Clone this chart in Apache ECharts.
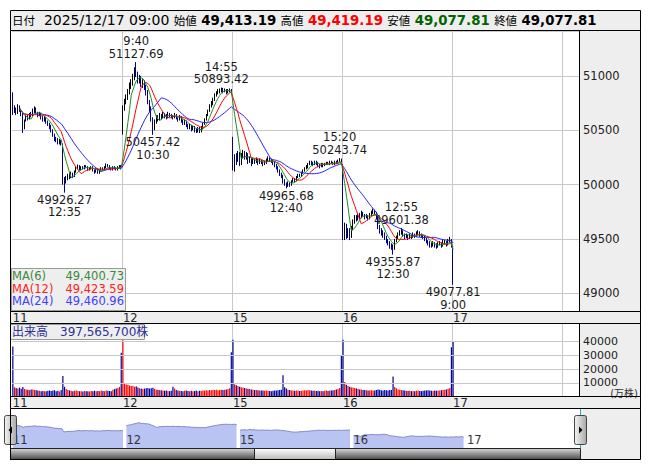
<!DOCTYPE html>
<html><head><meta charset="utf-8">
<script src="https://cdn.jsdelivr.net/npm/echarts@6/dist/echarts.min.js"></script>
<style>html,body{margin:0;padding:0;background:#fff}#c{width:653px;height:470px}</style>
</head><body><div id="c"></div>
<script>
// ---------- data ----------
const days = ['11','12','15','16','17'];
const header = {date:'2025/12/17 09:00', open:'49,413.19', high:'49,419.19', low:'49,077.81', close:'49,077.81'};
const maLegend = [['MA(6)','49,400.73'],['MA(12)','49,423.59'],['MA(24)','49,460.96']];
const volLegend = '出来高　397,565,700株';
const priceTicks = [49000,49500,50000,50500,51000];
const volTicks = [10000,20000,30000,40000];
// [open, close, low, high] per 5-minute bar
const day11 = [
[50830,50680,50640,50850],[50680,50700,50660,50730],[50700,50660,50640,50710],[50660,50720,50650,50740],[50720,50690,50670,50730],[50690,50650,50630,50700],
[50650,50520,50475,50660],[50520,50590,50510,50600],[50590,50620,50580,50640],[50620,50610,50590,50640],[50610,50650,50600,50660],[50650,50640,50620,50670],
[50640,50680,50630,50700],[50680,50700,50660,50720],[50700,50660,50650,50710],[50660,50640,50620,50670],[50640,50650,50630,50670],[50650,50620,50600,50660],
[50620,50600,50580,50630],[50600,50610,50580,50630],[50610,50580,50560,50620],[50580,50560,50540,50590],[50560,50540,50510,50570],[50540,50500,50480,50550],
[50500,50460,50440,50510],[50460,50430,50400,50470],[50430,50420,50390,50440],[50420,50390,50370,50430],[50390,50400,50370,50420],[50400,50370,50360,50410],
[50370,50040,50000,50380],[50040,50030,49926.27,50070],[50030,50060,50010,50080],[50060,50090,50040,50100],[50090,50070,50050,50110],[50070,50100,50060,50120],
[50100,50080,50060,50110],[50080,50120,50070,50130],[50120,50150,50110,50170],[50150,50170,50140,50185],[50170,50140,50130,50180],[50140,50160,50130,50170],
[50160,50150,50140,50170],[50150,50170,50140,50180],[50170,50160,50150,50180],[50160,50140,50130,50170],[50140,50150,50130,50160],[50150,50160,50140,50170],
[50160,50130,50120,50170],[50130,50120,50100,50140],[50120,50140,50110,50150],[50140,50110,50100,50150],[50110,50130,50100,50140],[50130,50150,50120,50160],
[50150,50140,50130,50160],[50140,50160,50130,50170],[50160,50180,50150,50195],[50180,50170,50160,50190],[50170,50150,50140,50180],[50150,50140,50130,50160],
[50140,50160,50130,50170],[50160,50150,50140,50170],[50150,50140,50130,50160],[50140,50160,50130,50170],[50160,50170,50150,50180],[50170,50150,50140,50180]
];
const day12 = [
[50470,50700,50460,50730],[50700,50760,50680,50790],[50760,50800,50740,50830],[50800,50850,50780,50880],[50850,50900,50830,50940],[50900,50930,50880,50970],
[50930,50980,50910,51020],[50980,51040,50960,51080],[51040,51020,50990,51127.69],[51020,50950,50930,51040],[50950,50980,50930,51010],[50980,50920,50900,51000],
[50920,50940,50890,50970],[50940,50900,50870,50960],[50900,50850,50820,50920],[50850,50760,50740,50870],[50760,50700,50670,50780],[50700,50600,50580,50720],
[50600,50520,50457.42,50620],[50520,50580,50500,50600],[50580,50620,50560,50640],[50620,50600,50580,50640],[50600,50640,50590,50660],[50640,50620,50600,50650],
[50620,50650,50610,50670],[50650,50630,50610,50660],[50630,50620,50600,50650],[50620,50650,50610,50670],[50650,50640,50620,50660],[50640,50630,50610,50650],
[50630,50620,50600,50640],[50620,50640,50610,50660],[50640,50610,50600,50650],[50610,50600,50580,50620],[50600,50620,50590,50640],[50620,50590,50570,50630],
[50590,50570,50550,50600],[50570,50580,50550,50600],[50580,50550,50530,50590],[50550,50530,50510,50560],[50530,50540,50510,50560],[50540,50510,50490,50550],
[50510,50530,50500,50540],[50530,50500,50480,50540],[50500,50490,50475,50520],[50490,50520,50480,50530],[50520,50490,50475,50530],[50490,50520,50480,50540],
[50520,50560,50510,50570],[50560,50600,50550,50610],[50600,50640,50590,50650],[50640,50680,50630,50690],[50680,50720,50670,50740],[50720,50750,50710,50770],
[50750,50780,50730,50800],[50780,50820,50770,50840],[50820,50840,50810,50860],[50840,50860,50830,50880],[50860,50870,50840,50885],[50870,50880,50850,50893.42],
[50880,50860,50840,50890],[50860,50870,50850,50885],[50870,50850,50830,50880],[50850,50860,50840,50880],[50860,50870,50850,50885],[50870,50850,50830,50880]
];
const day15 = [
[50430,50200,50130,50440],[50200,50250,50120,50280],[50250,50230,50180,50290],[50230,50280,50210,50310],[50280,50200,50170,50300],[50200,50260,50180,50290],
[50260,50300,50240,50320],[50300,50250,50230,50310],[50250,50280,50230,50300],[50280,50220,50190,50290],[50220,50240,50200,50260],[50240,50200,50170,50250],
[50200,50230,50190,50250],[50230,50210,50190,50240],[50210,50230,50200,50250],[50230,50200,50180,50240],[50200,50220,50190,50240],[50220,50210,50190,50230],
[50210,50190,50170,50220],[50190,50200,50180,50220],[50200,50220,50190,50240],[50220,50240,50210,50260],[50240,50230,50210,50250],[50230,50220,50200,50240],
[50220,50200,50180,50230],[50200,50180,50160,50210],[50180,50160,50140,50190],[50160,50130,50110,50170],[50130,50100,50080,50140],[50100,50080,50060,50110],
[50080,50040,50010,50090],[50040,50010,49990,50050],[50010,49990,49965.68,50020],[49990,50010,49980,50030],[50010,50000,49980,50020],[50000,50030,49990,50040],
[50030,50050,50020,50060],[50050,50040,50020,50060],[50040,50070,50030,50080],[50070,50090,50060,50100],[50090,50080,50070,50100],[50080,50110,50070,50120],
[50110,50130,50100,50140],[50130,50150,50120,50160],[50150,50160,50140,50180],[50160,50190,50150,50200],[50190,50210,50180,50220],[50210,50200,50180,50220],
[50200,50190,50170,50210],[50190,50210,50180,50220],[50210,50200,50180,50220],[50200,50180,50160,50210],[50180,50170,50150,50190],[50170,50190,50160,50200],
[50190,50180,50160,50200],[50180,50190,50170,50200],[50190,50200,50180,50210],[50200,50190,50180,50210],[50190,50210,50180,50220],[50210,50200,50190,50220],
[50200,50190,50180,50210],[50190,50210,50180,50220],[50210,50200,50190,50220],[50200,50220,50190,50230],[50220,50230,50210,50243.74],[50230,50200,50180,50240]
];
const day16 = [
[50170,49600,49490,50190],[49600,49620,49490,49650],[49620,49540,49500,49640],[49540,49580,49510,49600],[49580,49520,49490,49600],[49520,49600,49510,49620],
[49600,49660,49580,49680],[49660,49700,49640,49720],[49700,49680,49660,49720],[49680,49720,49670,49740],[49720,49700,49680,49740],[49700,49740,49690,49760],
[49740,49720,49700,49750],[49720,49700,49680,49730],[49700,49710,49690,49730],[49710,49690,49670,49720],[49690,49720,49680,49740],[49720,49740,49710,49760],
[49740,49760,49730,49780],[49760,49740,49720,49770],[49740,49700,49680,49750],[49700,49620,49590,49710],[49620,49580,49550,49630],[49580,49560,49530,49600],
[49560,49540,49510,49580],[49540,49520,49490,49560],[49520,49480,49460,49530],[49480,49460,49440,49500],[49460,49440,49410,49480],[49440,49430,49400,49460],
[49430,49420,49355.87,49450],[49420,49480,49400,49500],[49480,49510,49470,49530],[49510,49540,49500,49560],[49540,49560,49530,49580],[49560,49570,49540,49601.38],
[49570,49540,49520,49580],[49540,49520,49500,49550],[49520,49530,49510,49550],[49530,49510,49490,49540],[49510,49530,49500,49550],[49530,49520,49500,49540],
[49520,49540,49510,49560],[49540,49530,49510,49550],[49530,49550,49520,49570],[49550,49560,49540,49580],[49560,49540,49520,49570],[49540,49530,49510,49550],
[49530,49520,49500,49540],[49520,49500,49480,49530],[49500,49480,49460,49510],[49480,49460,49440,49490],[49460,49450,49420,49480],[49450,49440,49420,49470],
[49440,49460,49430,49480],[49460,49440,49420,49470],[49440,49430,49410,49460],[49430,49450,49420,49470],[49450,49460,49440,49480],[49460,49440,49420,49470],
[49440,49470,49430,49490],[49470,49470,49450,49490],[49470,49450,49430,49480],[49450,49480,49440,49500],[49480,49490,49470,49520],[49490,49437,49420,49500]
];
const day17 = [[49413.19,49077.81,49077.81,49419.19]];
// volume, 万株
const vol11 = [36500,6800,6200,5800,6500,5600, 7000,5500,5200,5000,4700,5100, 5200,4800,4600,4300,4200,3900, 4000,3800,3900,4200,4400,4000, 4300,4600,3900,4200,3700,4700,
15000,7200,5500,4700,4400,4200, 3900,4300,4400,4000,3800,3900, 3700,4000,3900,3800,3700,4000, 3900,4200,3800,4000,3900,4300, 4000,3900,4400,4200,4000,3900, 4900,5400,5800,6200,7000,32000];
const vol12 = [41000,9500,8800,8500,8000,7600, 7800,7000,7500,6500,6000,5800, 5500,5800,6000,6200,5800,6000, 6300,5500,5000,4900,4700,4600, 4400,4200,4300,4000,3900,4200,
7200,5800,4700,4400,4200,4000, 3900,4200,4300,4000,3900,4200, 3800,4000,4300,3900,4200,4000, 4400,4300,4600,4400,4700,4600, 4800,4700,4900,4600,4800,5000, 4700,4900,5200,5500,6000,32300];
const vol15 = [41500,9000,8200,7600,7200,6800, 6500,6200,5900,5700,5500,5200, 4900,4800,4700,4600,4400,4300, 4400,4200,4300,4200,4000,3900, 4200,4300,4400,4600,4700,4900,
15600,6800,5800,4900,4700,4400, 4300,4200,4400,4300,4000,4200, 4300,4600,4400,4700,4600,4300, 4200,4300,4000,4200,3900,4000, 3900,4200,4300,4000,4400,4300, 4600,4800,5100,5500,6200,30200];
const vol16 = [41500,10500,8500,7600,7200,6800, 6500,6200,5900,5600,5200,5100, 4800,4700,4600,4400,4300,4600, 4400,4300,4700,5200,4900,4600, 4400,4700,4600,4400,4700,4800,
14600,7000,6000,5200,4900,4800, 4600,4300,4200,4000,4200,3900, 4000,3900,4200,4300,4000,3900, 4200,4300,4400,4600,4300,4200, 4000,4300,4200,4400,4300,4600, 4700,4900,5200,5600,6200,36000];
const vol17 = [39757];
const highMarks = [['12','9:40',51127.69],['12','14:55',50893.42],['15','15:20',50243.74],['16','12:55',49601.38]];
const lowMarks = [['11','12:35',49926.27],['12','10:30',50457.42],['15','12:40',49965.68],['16','12:30',49355.87],['17','9:00',49077.81]];

// ---------- build ----------
const FONT = '"DejaVu Sans","Noto Sans CJK JP",sans-serif';
const sessionTimes = [];
function hm(m){return Math.floor(m/60)+':'+String(m%60).padStart(2,'0');}
for(let m=540;m<690;m+=5) sessionTimes.push(hm(m));
for(let m=750;m<930;m+=5) sessionTimes.push(hm(m));
const PER = sessionTimes.length; // 66
const NSLOT = 340;
const cats = [];
days.forEach(d=>sessionTimes.forEach(t=>cats.push(d+' '+t)));
while(cats.length<NSLOT) cats.push('~'+cats.length);
cats.length = NSLOT;
const bars = day11.concat(day12, day15, day16, day17);
const vols = vol11.concat(vol12, vol15, vol16, vol17);
const candle = bars.slice(); while(candle.length<NSLOT) candle.push('-');
const volData = vols.map((v,i)=>({value:v, itemStyle:{color: bars[i][1]>=bars[i][0] ? '#ff0000' : '#000099'}}));
const closes = bars.map(b=>b[1]);
function sma(n){
  const out=[];
  for(let i=0;i<NSLOT;i++){
    if(i>=closes.length||i<4){out.push('-');continue;}
    const s=Math.max(0,i-n+1); let t=0; for(let k=s;k<=i;k++) t+=closes[k];
    out.push(+(t/(i-s+1)).toFixed(2));
  }
  return out;
}
function idxOf(d,t){return days.indexOf(d)*PER + sessionTimes.indexOf(t);}
const markData = highMarks.map(m=>({coord:[idxOf(m[0],m[1]), m[2]], label:{position:'top', distance:2, formatter: m[1]+'\n'+m[2].toFixed(2)}}))
  .concat(lowMarks.map(m=>({coord:[idxOf(m[0],m[1]), m[2]], label:{position:'bottom', distance:1, formatter: m[2].toFixed(2)+'\n'+m[1]}})));
// overview (scroll area) data: days separated by a blank slot
const OVPER = PER+1;
const ovData = [], ovCats = [];
[day11,day12,day15,day16,day17].forEach((d,k)=>{
  for(let i=0;i<OVPER;i++){
    ovCats.push(i===0?days[k]:'');
    ovData.push(i<d.length ? d[i][1] : '-');
  }
});
ovCats.length = OVPER*5-1; ovData.length = OVPER*5-1;

const lbl = {fontFamily:FONT, fontSize:11.5, color:'#222'};
const gridStroke = '#c8c8c8';
function dayFmt(v){return (v.charAt(0)==='~')?'':v.split(' ')[0];}
function rect(x,y,w,h,fill,stroke,z){return {type:'rect',silent:true,z:z,shape:{x:x,y:y,width:w,height:h},style:{fill:fill,stroke:stroke||null,lineWidth:1}};}
function txt(x,y,s,color,align,z,size){return {type:'text',silent:true,z:z||60,style:{x:x,y:y,text:s,fill:color,font:(size||11.5)+'px '+FONT,align:align||'left',textAlign:align||'left',verticalAlign:'middle',textVerticalAlign:'middle'}};}

const graphics = [
  // backgrounds
  rect(10.5,10.5,630,20,'#eeeeee',null,-5),
  rect(579.5,30.5,61,281,'#eeeeee',null,-5),
  rect(10.5,311.5,630,12,'#eeeeee',null,-5),
  rect(579.5,323.5,61,73,'#eeeeee',null,-5),
  rect(10.5,396.5,630,12,'#eeeeee',null,-5),
  rect(580.5,408.5,60,51,'#eeeeee',null,-5),
  // frames
  rect(10.5,10.5,630,20,null,'#000',80),
  rect(10.5,30.5,630,281,null,'#000',80),
  rect(10.5,311.5,630,12,null,'#000',80),
  rect(10.5,323.5,630,73,null,'#000',80),
  rect(10.5,396.5,630,12,null,'#000',80),
  rect(10.5,408.5,630,51,null,'#000',80),
  {type:'line',silent:true,z:80,shape:{x1:579.5,y1:30.5,x2:579.5,y2:311.5},style:{stroke:'#000',lineWidth:1}},
  {type:'line',silent:true,z:80,shape:{x1:579.5,y1:323.5,x2:579.5,y2:396.5},style:{stroke:'#000',lineWidth:1}},
  // MA legend
  rect(11.5,268.5,114,42,'#eeeeee','#999999',70),
  txt(12,276,maLegend[0][0],'#3a8a3a','left',71), txt(124,276,maLegend[0][1],'#3a8a3a','right',71),
  txt(12,288.5,maLegend[1][0],'#ff2020','left',71), txt(124,288.5,maLegend[1][1],'#ff2020','right',71),
  txt(12,301,maLegend[2][0],'#4040ff','left',71), txt(124,301,maLegend[2][1],'#4040ff','right',71),
  // volume legend
  rect(10.5,324.5,134,15,'#eeeeee','#999999',70),
  txt(12,332,volLegend,'#30309a','left',71,12),
  txt(638,393.5,'(万株)','#333','right',71,10),
  // scroll area
  {type:'line',silent:true,z:75,shape:{x1:10.5,y1:409,x2:10.5,y2:448},style:{stroke:'#2aa6d0',lineWidth:1}},
  {type:'line',silent:true,z:75,shape:{x1:580.5,y1:409,x2:580.5,y2:448},style:{stroke:'#2aa6d0',lineWidth:1}},
  {type:'rect',silent:true,z:76,shape:{x:4.5,y:415.5,width:12,height:29,r:2},style:{stroke:'#444',lineWidth:1,fill:{type:'linear',x:0,y:0,x2:1,y2:0,colorStops:[{offset:0,color:'#f4f4f4'},{offset:1,color:'#a8a8a8'}]}}},
  {type:'polygon',silent:true,z:77,shape:{points:[[8.5,430],[12,426.5],[12,433.5]]},style:{fill:'#000'}},
  {type:'rect',silent:true,z:76,shape:{x:574.5,y:415.5,width:12,height:29,r:2},style:{stroke:'#444',lineWidth:1,fill:{type:'linear',x:0,y:0,x2:1,y2:0,colorStops:[{offset:0,color:'#f4f4f4'},{offset:1,color:'#a8a8a8'}]}}},
  {type:'polygon',silent:true,z:77,shape:{points:[[582.5,430],[579,426.5],[579,433.5]]},style:{fill:'#000'}},
  {type:'rect',silent:true,z:76,shape:{x:10.5,y:448.5,width:570,height:11},style:{stroke:'#222',lineWidth:1,fill:{type:'linear',x:0,y:0,x2:0,y2:1,colorStops:[{offset:0,color:'#d8d8d8'},{offset:1,color:'#4a4a4a'}]}}},
  {type:'rect',silent:true,z:77,shape:{x:254.5,y:448.5,width:81,height:11},style:{stroke:'#222',lineWidth:1,fill:{type:'linear',x:0,y:0,x2:0,y2:1,colorStops:[{offset:0,color:'#ffffff'},{offset:1,color:'#b8b8b8'}]}}}
];

const option = {
  animation:false,
  backgroundColor:'#ffffff',
  title:{
    left:12, top:13, padding:0,
    text:'{l|日付}  {d|'+header.date+'} {l|始値} {b|'+header.open+'} {l|高値} {r|'+header.high+'} {l|安値} {g|'+header.low+'} {l|終値} {b|'+header.close+'}',
    textStyle:{fontFamily:FONT, fontSize:14, fontWeight:'normal', color:'#000', rich:{
      l:{fontFamily:'"Noto Sans CJK JP"', fontSize:11.5, color:'#000'},
      d:{fontFamily:FONT, fontSize:14, color:'#000'},
      b:{fontFamily:FONT, fontSize:13.3, fontWeight:'bold', color:'#000'},
      r:{fontFamily:FONT, fontSize:13.3, fontWeight:'bold', color:'#ff0000'},
      g:{fontFamily:FONT, fontSize:13.3, fontWeight:'bold', color:'#006400'}
    }}
  },
  grid:[
    {left:12, right:74, top:31, bottom:159},
    {left:12, right:74, top:324, bottom:73.5},
    {left:12, right:75, top:410, bottom:22}
  ],
  xAxis:[
    {type:'category', gridIndex:0, data:cats, boundaryGap:true,
     axisLine:{show:false}, axisTick:{show:false},
     axisLabel:Object.assign({interval:(i)=>i%PER===0, formatter:dayFmt, align:'left', margin:1}, lbl),
     splitLine:{show:true, interval:(i)=>i>0&&i%PER===0, lineStyle:{color:gridStroke,width:1}}},
    {type:'category', gridIndex:1, data:cats, boundaryGap:true,
     axisLine:{show:false}, axisTick:{show:false},
     axisLabel:Object.assign({interval:(i)=>i%PER===0, formatter:dayFmt, align:'left', margin:1}, lbl),
     splitLine:{show:true, interval:(i)=>i>0&&i%PER===0, lineStyle:{color:gridStroke,width:1}}},
    {type:'category', gridIndex:2, data:ovCats, boundaryGap:true, z:20,
     axisLine:{show:false}, axisTick:{show:false}, splitLine:{show:false},
     axisLabel:Object.assign({interval:0, inside:true, align:'left', margin:2}, lbl, {color:'#333'})}
  ],
  yAxis:[
    {type:'value', gridIndex:0, position:'right', min:48837, max:51414, splitNumber:5, scale:true,
     axisLine:{show:false}, axisTick:{show:false},
     axisLabel:Object.assign({margin:4, showMinLabel:false, showMaxLabel:false, formatter:(v)=>priceTicks.indexOf(v)>=0?String(v):''}, lbl),
     splitLine:{show:true, lineStyle:{color:gridStroke,width:1}}},
    {type:'value', gridIndex:1, position:'right', min:0, max:52920, splitNumber:5,
     axisLine:{show:false}, axisTick:{show:false},
     axisLabel:Object.assign({margin:4, formatter:(v)=>volTicks.indexOf(v)>=0?String(v):''}, lbl, {fontSize:11, lineHeight:11}),
     splitLine:{show:false}},
    {type:'value', gridIndex:2, min:48220, max:52470, show:false}
  ],
  series:[
    {type:'candlestick', xAxisIndex:0, yAxisIndex:0, data:candle, barWidth:1.3,
     itemStyle:{color:'#000000', color0:'#000099', borderColor:'#000000', borderColor0:'#000099', borderWidth:1},
     markPoint:{symbol:'circle', symbolSize:0, silent:true,
       label:{show:true, color:'#1a1a1a', fontFamily:FONT, fontSize:11.5, lineHeight:12.5},
       data:markData}},
    {type:'line', xAxisIndex:0, yAxisIndex:0, data:sma(24), showSymbol:false, symbol:'none', lineStyle:{color:'#2020ff',width:1}, z:3},
    {type:'line', xAxisIndex:0, yAxisIndex:0, data:sma(12), showSymbol:false, symbol:'none', lineStyle:{color:'#ff0000',width:1}, z:4},
    {type:'line', xAxisIndex:0, yAxisIndex:0, data:sma(6), showSymbol:false, symbol:'none', lineStyle:{color:'#1e8c1e',width:1}, z:5},
    {type:'bar', xAxisIndex:1, yAxisIndex:1, data:volData, barWidth:1.2,
     markLine:{silent:true, symbol:'none', label:{show:false}, lineStyle:{color:gridStroke,type:'solid',width:1},
       data:volTicks.map(v=>({yAxis:v}))}},
    {type:'line', xAxisIndex:2, yAxisIndex:2, data:ovData, showSymbol:false, symbol:'none', connectNulls:false, z:1,
     lineStyle:{color:'#8088cc',width:1}, areaStyle:{color:'#b9c4f2', opacity:1, origin:'start'}}
  ],
  graphic:graphics
};
const chart = echarts.init(document.getElementById('c'), null, {renderer:'svg', width:653, height:470});
chart.setOption(option);
</script>
</body></html>
